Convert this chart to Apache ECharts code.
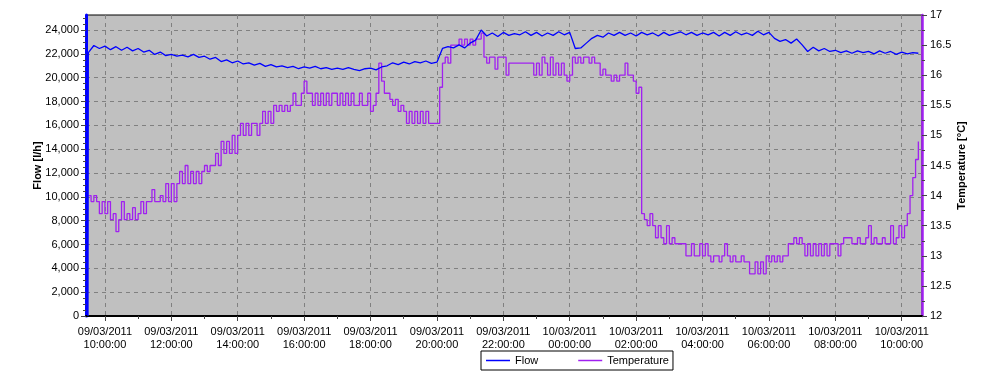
<!DOCTYPE html>
<html>
<head>
<meta charset="utf-8">
<script src="https://cdn.jsdelivr.net/npm/echarts@6/dist/echarts.min.js"></script>
<style>
html,body{margin:0;padding:0;background:#fff;}
#chart{width:997px;height:390px;}
</style>
</head>
<body>
<div id="chart"></div>
<script>
// ---- DATA (hours counted from 09/03/2011 00:00) ----
const xMinHour = 9.43;
const xMaxHour = 34.61;
const xTickHours = [10, 12, 14, 16, 18, 20, 22, 24, 26, 28, 30, 32, 34];
const xTickLabels = [
  '09/03/2011\n10:00:00', '09/03/2011\n12:00:00', '09/03/2011\n14:00:00',
  '09/03/2011\n16:00:00', '09/03/2011\n18:00:00', '09/03/2011\n20:00:00',
  '09/03/2011\n22:00:00', '10/03/2011\n00:00:00', '10/03/2011\n02:00:00',
  '10/03/2011\n04:00:00', '10/03/2011\n06:00:00', '10/03/2011\n08:00:00',
  '10/03/2011\n10:00:00'
];
const xMinorTickHours = [11, 13, 15, 17, 19, 21, 23, 25, 27, 29, 31, 33];
const flowTicks = [0, 2000, 4000, 6000, 8000, 10000, 12000, 14000, 16000, 18000, 20000, 22000, 24000];

// Flow [l/h], sampled every 10 minutes from 09:30
const flowStartTime = 9.49;
const flowStartValue = 0;
const flowStartHour = 9.5;
const flowStepHours = 10 / 60;
const flowValues = [
  22100,22700,22450,22650,22350,22600,
  22300,22550,22250,22450,22150,22300,
  21950,22150,21850,21950,21800,21900,
  21750,21950,21700,21800,21550,21700,
  21350,21500,21250,21400,21150,21250,
  21050,21200,20950,21100,20900,21000,
  20850,20950,20750,20900,20800,20950,
  20750,20850,20700,20800,20700,20850,
  20700,20600,20750,20800,20650,20900,
  21000,21250,21100,21300,21150,21350,
  21250,21400,21200,21300,22450,22600,
  22500,22750,22500,22900,23150,24000,
  23500,23750,23450,23800,23550,23700,
  23600,23850,23550,23800,23500,23750,
  23550,23850,23600,23800,22450,22500,
  22900,23300,23550,23400,23750,23550,
  23800,23550,23750,23500,23800,23600,
  23750,23500,23800,23550,23700,23850,
  23600,23800,23550,23750,23600,23800,
  23500,23800,23550,23850,23600,23750,
  23550,23900,23600,23800,23300,23050,
  23200,22900,23250,22750,22200,22550,
  22250,22450,22200,22300,22100,22250,
  22050,22250,22100,22200,22000,22250,
  22050,22200,21950,22150,22000,22100,
  22050
];

// Temperature [°C], sampled every 5 minutes from 09:30
const tempStartHour = 9.5;
const tempStepHours = 5 / 60;
const tempValues = [
  14.0,13.9,14.0,13.9,13.7,13.9,13.7,13.9,13.6,13.7,13.4,13.6,
  13.9,13.6,13.7,13.6,13.8,13.6,13.7,13.9,13.7,13.9,13.9,14.1,
  13.9,13.9,14.0,13.9,14.2,13.9,14.2,13.9,14.2,14.4,14.2,14.5,
  14.2,14.4,14.2,14.4,14.2,14.4,14.5,14.4,14.5,14.5,14.7,14.5,
  14.9,14.7,14.9,14.7,15.0,14.7,15.0,15.2,15.0,15.2,15.0,15.2,
  15.2,15.0,15.2,15.4,15.2,15.4,15.2,15.5,15.4,15.5,15.4,15.5,
  15.4,15.5,15.7,15.5,15.5,15.7,15.9,15.7,15.7,15.5,15.7,15.5,
  15.7,15.5,15.7,15.5,15.7,15.7,15.5,15.7,15.5,15.7,15.5,15.7,
  15.5,15.5,15.7,15.5,15.5,15.7,15.4,15.5,15.7,16.2,15.9,15.7,
  15.7,15.6,15.5,15.6,15.4,15.5,15.4,15.2,15.4,15.2,15.4,15.2,
  15.4,15.2,15.4,15.2,15.2,15.2,15.2,15.8,16.2,16.3,16.2,16.5,
  16.5,16.5,16.6,16.5,16.6,16.5,16.6,16.5,16.6,16.6,16.7,16.3,
  16.2,16.3,16.3,16.1,16.3,16.3,16.3,16.0,16.2,16.2,16.2,16.2,
  16.2,16.2,16.2,16.2,16.2,16.0,16.2,16.0,16.3,16.2,16.0,16.3,
  16.0,16.2,16.0,16.2,16.0,15.9,16.0,16.3,16.2,16.3,16.2,16.3,
  16.3,16.2,16.3,16.2,16.2,16.0,16.1,16.0,16.0,15.9,16.0,15.9,
  16.0,16.0,16.2,16.0,16.0,15.9,15.7,15.8,13.7,13.6,13.5,13.7,
  13.5,13.3,13.5,13.3,13.2,13.5,13.2,13.3,13.2,13.2,13.2,13.2,
  13.0,13.0,13.2,13.0,13.0,13.2,13.0,13.2,13.0,12.9,13.0,13.0,
  12.9,13.0,13.2,13.0,12.9,13.0,12.9,12.9,13.0,12.9,12.9,12.7,
  12.7,12.9,12.7,12.9,12.7,13.0,12.9,13.0,12.9,13.0,12.9,13.0,
  13.0,13.2,13.2,13.3,13.2,13.3,13.2,13.0,13.2,13.0,13.2,13.0,
  13.2,13.0,13.2,13.0,13.2,13.2,13.2,13.0,13.2,13.3,13.3,13.3,
  13.2,13.2,13.3,13.2,13.2,13.3,13.5,13.2,13.3,13.2,13.2,13.3,
  13.2,13.2,13.5,13.2,13.3,13.5,13.3,13.5,13.7,14.0,14.3,14.6,
  14.9
];

// ---- BUILD ----
const FONT = '"Liberation Sans", Arial, sans-serif';
const flowData = [[flowStartTime, flowStartValue]].concat(
  flowValues.map((v, i) => [flowStartHour + i * flowStepHours, v]));
const tempData = tempValues.map((v, i) => [tempStartHour + i * tempStepHours, v]);

const chart = echarts.init(document.getElementById('chart'), null, {renderer: 'canvas'});
const gridLine = {show: true, lineStyle: {color: '#808080', type: [4, 4], width: 1}};
const labelStyle = {fontSize: 11, color: '#000', fontFamily: FONT};

chart.setOption({
  animation: false,
  backgroundColor: '#fff',
  grid: {left: 86, right: 75, top: 15, bottom: 74, show: true,
         backgroundColor: '#C0C0C0', borderColor: '#000', borderWidth: 1},
  legend: {
    data: [{name: 'Flow', icon: 'rect'}, {name: 'Temperature', icon: 'rect'}],
    left: 481, top: 351,
    padding: [4, 4, 4, 5],
    itemGap: 40, itemWidth: 24, itemHeight: 1.5,
    borderColor: '#000', borderWidth: 1, borderRadius: 0,
    backgroundColor: '#fff',
    textStyle: {fontSize: 11, color: '#000', fontFamily: FONT}
  },
  xAxis: [{
    type: 'value', min: xMinHour, max: xMaxHour, position: 'bottom',
    axisLine: {show: true, lineStyle: {color: '#000', width: 2}},
    axisTick: {show: true, customValues: xTickHours, length: 5, lineStyle: {color: '#444'}},
    axisLabel: Object.assign({}, labelStyle, {
      customValues: xTickHours, margin: 9, lineHeight: 13.5,
      formatter: v => { const i = xTickHours.indexOf(Math.round(v)); return i >= 0 ? xTickLabels[i] : ''; }
    }),
    splitLine: gridLine
  }, {
    type: 'value', min: xMinHour, max: xMaxHour, position: 'bottom',
    axisLine: {show: false},
    axisTick: {show: true, customValues: xMinorTickHours, length: 3, lineStyle: {color: '#444'}},
    axisLabel: {show: false},
    splitLine: {show: false}
  }],
  yAxis: [{
    type: 'value', position: 'left', min: 0, max: 25260, interval: 2000,
    axisLine: {show: true, lineStyle: {color: '#0000FF', width: 3}},
    axisTick: {show: true, customValues: flowTicks, length: 5, lineStyle: {color: '#444'}},
    minorTick: {show: true, splitNumber: 4, length: 3, lineStyle: {color: '#444'}},
    axisLabel: Object.assign({}, labelStyle, {
      customValues: flowTicks, margin: 7,
      formatter: v => Math.round(v).toString().replace(/\B(?=(\d{3})+(?!\d))/g, ',')
    }),
    splitLine: gridLine,
    name: 'Flow [l/h]', nameLocation: 'middle', nameGap: 43, nameRotate: 90,
    nameMoveOverlap: false,
    nameTextStyle: {fontSize: 11, fontWeight: 'bold', color: '#000', fontFamily: FONT}
  }, {
    type: 'value', position: 'right', min: 12, max: 17, interval: 0.5,
    axisLine: {show: true, lineStyle: {color: '#A020F0', width: 2.5}},
    axisTick: {show: true, length: 5, lineStyle: {color: '#444'}},
    minorTick: {show: true, splitNumber: 2, length: 3, lineStyle: {color: '#444'}},
    axisLabel: Object.assign({}, labelStyle, {margin: 8}),
    splitLine: {show: false},
    name: 'Temperature [°C]', nameLocation: 'middle', nameGap: 34, nameRotate: 90,
    nameMoveOverlap: false,
    nameTextStyle: {fontSize: 11, fontWeight: 'bold', color: '#000', fontFamily: FONT}
  }],
  series: [{
    name: 'Flow', type: 'line', xAxisIndex: 0, yAxisIndex: 0,
    data: flowData, symbol: 'none', showSymbol: false, z: 4,
    lineStyle: {color: '#0000FF', width: 1.3}, itemStyle: {color: '#0000FF'}
  }, {
    name: 'Temperature', type: 'line', xAxisIndex: 0, yAxisIndex: 1,
    data: tempData, symbol: 'none', showSymbol: false, step: 'end', z: 3,
    lineStyle: {color: '#A020F0', width: 1.3}, itemStyle: {color: '#A020F0'}
  }]
});
</script>
</body>
</html>
